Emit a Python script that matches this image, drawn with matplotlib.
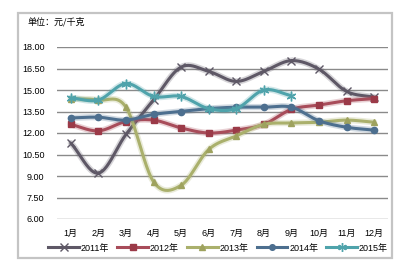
import numpy as np
import matplotlib
matplotlib.use('Agg')
import matplotlib.pyplot as plt
import matplotlib.patheffects as pe
from matplotlib.patches import Rectangle

plt.rcParams['font.family'] = ['Liberation Sans', 'Noto Sans CJK SC', 'DejaVu Sans']
plt.rcParams['axes.unicode_minus'] = False

# 数据（元/千克）
months = ['1月', '2月', '3月', '4月', '5月', '6月', '7月', '8月', '9月', '10月', '11月', '12月']
y2011 = [11.3, 9.2, 11.9, 14.3, 16.6, 16.3, 15.6, 16.3, 17.05, 16.45, 14.9, 14.5]
y2012 = [12.6, 12.15, 12.8, 12.9, 12.35, 12.0, 12.2, 12.6, 13.65, 13.95, 14.25, 14.4]
y2013 = [14.4, 14.3, 13.8, 8.6, 8.35, 10.85, 11.8, 12.6, 12.7, 12.75, 12.9, 12.75]
y2014 = [13.05, 13.1, 12.9, 13.3, 13.5, 13.7, 13.8, 13.8, 13.8, 12.85, 12.4, 12.2]
y2015 = [14.45, 14.3, 15.45, 14.55, 14.55, 13.7, 13.7, 15.0, 14.6]
yticks = [6.0, 7.5, 9.0, 10.5, 12.0, 13.5, 15.0, 16.5, 18.0]


def smooth(xs, ys, n=24):
    """Catmull-Rom 平滑曲线（模拟 Excel 平滑线）"""
    x = np.asarray(xs, float)
    y = np.asarray(ys, float)
    xp = np.concatenate([[2 * x[0] - x[1]], x, [2 * x[-1] - x[-2]]])
    yp = np.concatenate([[2 * y[0] - y[1]], y, [2 * y[-1] - y[-2]]])
    t = np.linspace(0, 1, n)
    sx, sy = [], []
    for i in range(1, len(xp) - 2):
        for p, out in ((xp, sx), (yp, sy)):
            p0, p1, p2, p3 = p[i - 1], p[i], p[i + 1], p[i + 2]
            out.extend(0.5 * (2 * p1 + (-p0 + p2) * t
                              + (2 * p0 - 5 * p1 + 4 * p2 - p3) * t ** 2
                              + (-p0 + 3 * p1 - 3 * p2 + p3) * t ** 3))
    return np.array(sx), np.array(sy)


fig = plt.figure(figsize=(4.2, 2.69), dpi=100)
fig.patch.set_facecolor('white')

# 外框
fig.patches.append(Rectangle((18 / 420, 1 - 258 / 269), 374 / 420, 245 / 269,
                             transform=fig.transFigure, fill=False,
                             edgecolor='#c4c4c4', lw=1.6))

ax = fig.add_axes([57 / 420, 50 / 269, 331 / 420, 172 / 269])
ax.set_xlim(0.5, 12.5)
ax.set_ylim(6, 18)
for s in ax.spines.values():
    s.set_visible(False)
ax.set_yticks(yticks)
ax.set_yticklabels([f'{v:.2f}' for v in yticks], fontsize=6.5)
ax.yaxis.grid(True, color='#8a8a8a', lw=1.0)
ax.set_axisbelow(True)
ax.set_xticks(range(1, 13))
ax.set_xticklabels(months, fontsize=6.5)
ax.tick_params(length=0, pad=7)
ax.tick_params(axis='y', pad=9)

series = [
    ('2011年', y2011, '#5e5866', '#5e5866', 'x', 6),
    ('2012年', y2012, '#a84c5a', '#9b3a48', 's', 5),
    ('2013年', y2013, '#aab06c', '#9ea25e', '^', 5),
    ('2014年', y2014, '#4d6f8f', '#4d6f8f', 'o', 4.5),
    ('2015年', y2015, '#4fa3ab', '#4fa3ab', (6, 2, 0), 7),
]

handles = []
for name, vals, lc, mc, mk, ms in series:
    xs = np.arange(1, len(vals) + 1)
    sx, sy = smooth(xs, vals)
    ax.plot(sx, sy, color=lc, lw=2.2, solid_capstyle='round',
            path_effects=[pe.Stroke(linewidth=4.5, foreground=lc, alpha=0.25), pe.Normal()])
    ax.plot(xs, vals, ls='none', marker=mk, ms=ms, color=mc, mec=mc, mew=1.0)
    h, = ax.plot([], [], color=lc, lw=2.2, marker=mk, ms=ms, mec=mc, mfc=mc, mew=1.0)
    handles.append(h)

fig.text(28 / 420, 1 - 22 / 269, '单位：元/千克', fontsize=6.5, va='center', ha='left',
         family=['Noto Sans CJK SC'])

fig.legend(handles, [s[0] for s in series], loc='center', ncol=5,
           bbox_to_anchor=(218 / 420, 1 - 248 / 269), frameon=False,
           fontsize=6.5, handlelength=3.4, handletextpad=0.2, columnspacing=0.9,
           markerscale=0.9)

fig.savefig('out.png', dpi=100)
